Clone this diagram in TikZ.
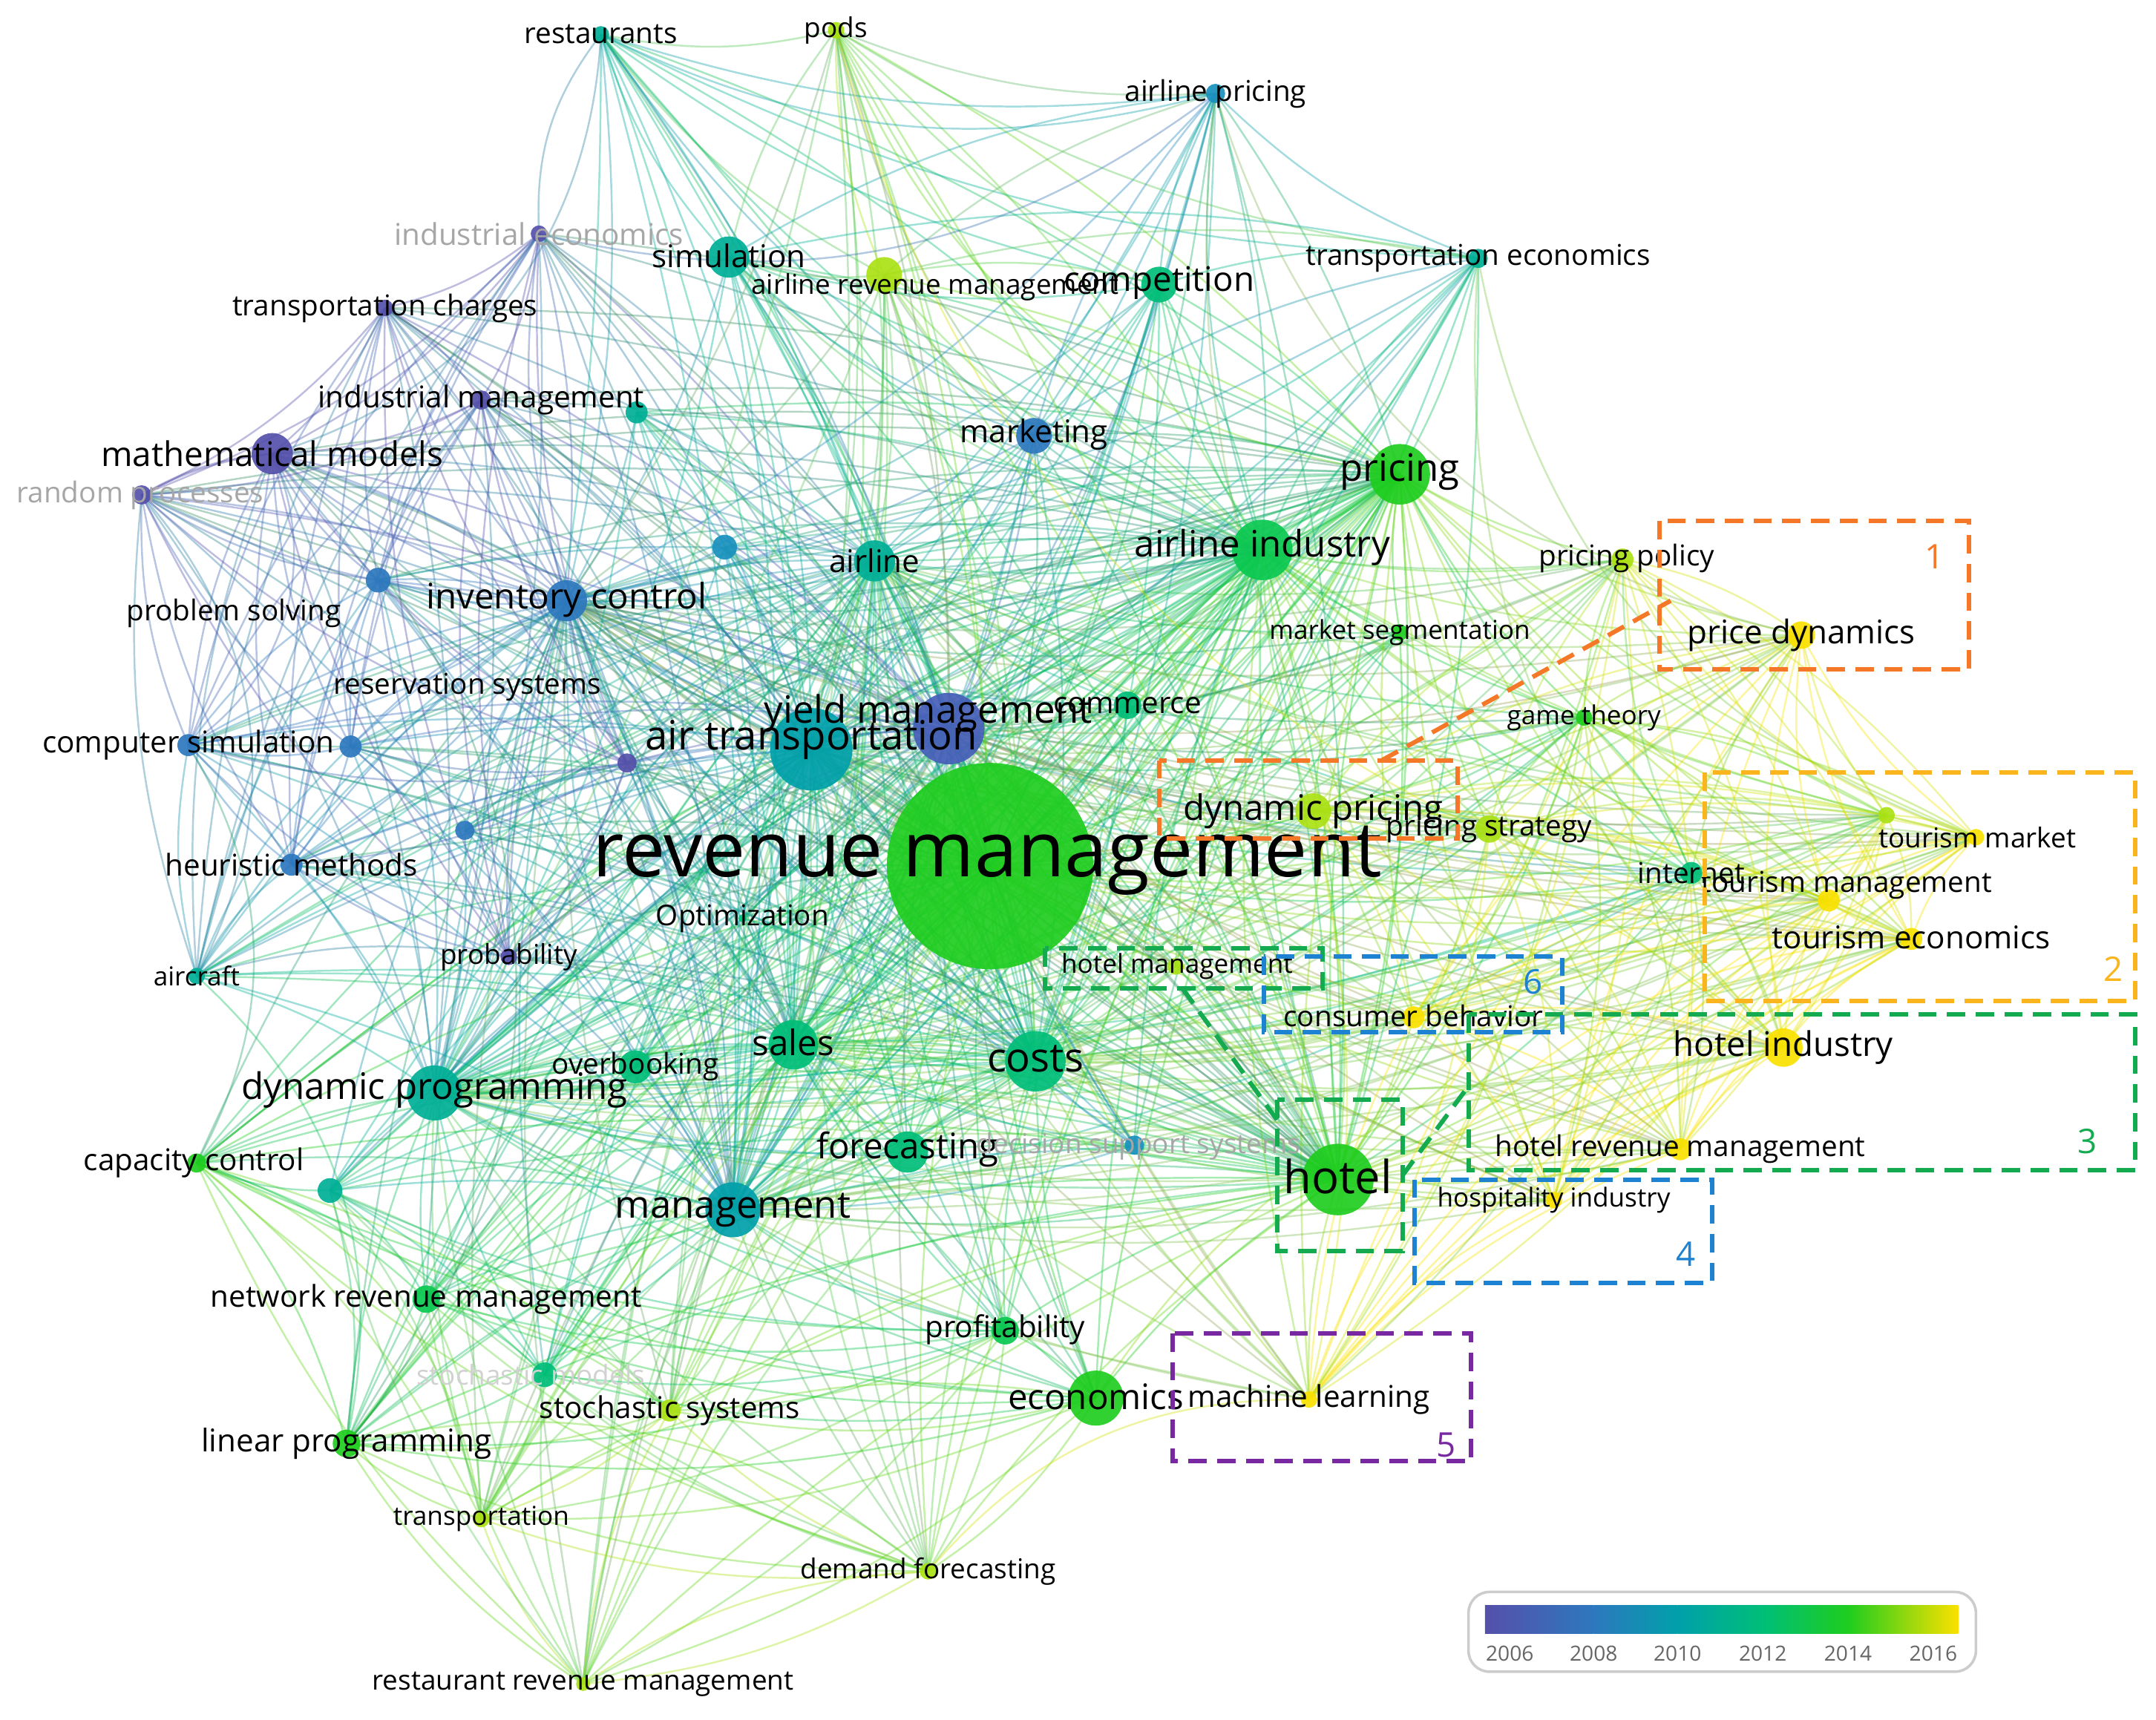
\documentclass[tikz,border=0pt]{standalone}
\usepackage{fontspec}
\setmainfont{Open Sans}
\definecolor{c06}{RGB}{85,80,170}
\definecolor{c07}{RGB}{70,95,185}
\definecolor{c08}{RGB}{45,120,190}
\definecolor{c09}{RGB}{25,145,190}
\definecolor{c10}{RGB}{0,160,170}
\definecolor{c11}{RGB}{0,175,150}
\definecolor{c12}{RGB}{0,190,120}
\definecolor{c13}{RGB}{10,200,80}
\definecolor{c14}{RGB}{30,205,30}
\definecolor{c15}{RGB}{170,225,20}
\definecolor{c16}{RGB}{250,225,0}
\definecolor{bOr}{RGB}{245,120,40}
\definecolor{bYe}{RGB}{250,180,30}
\definecolor{bGr}{RGB}{20,170,80}
\definecolor{bBl}{RGB}{30,130,210}
\definecolor{bPu}{RGB}{120,40,160}
\tikzset{
 edge/.style={opacity=.38,line width=.7pt},
 kwdot/.style={circle,inner sep=0pt,opacity=.92},
 boxd/.style={dashed,dash pattern=on 7pt off 4pt,line width=1.7pt},
 boxnum/.style={font=\fontsize{13}{13}\selectfont}
}
\def\nodelist{rm/720/630/75/c14/718/626/29.5/black/revenue management,
yield/690/530/26/c07/675/519/14.5/black/yield management,
airtrans/590/545/30/c10/590/538/15.5/black/air transportation,
pricing/1018/345/22/c14/1018/343/14.5/black/pricing,
ailind/918/400/22/c13/918/398/14/black/airline industry,
hotel/973/858/26/c14/973/856/17.5/black/hotel,
costs/753/772/22/c12/753/770/15.5/black/costs,
sales/577/760/18/c12/577/758/13.5/black/sales,
mgmt/533/880/20/c10/533/880/14.5/black/management,
fcst/660/838/15/c12/660/836/13.5/black/forecasting,
dynprog/316/795/20/c11/316/793/14/black/dynamic programming,
econ/797/1017/20/c14/797/1016/13.5/black/economics,
invc/412/437/15/c08/412/436/13.5/black/inventory control,
mathm/198/330/15/c06/198/330/13/black/mathematical models,
sim/530/187/15/c11/530/186/12/black/simulation,
comp/843/207/13/c12/843/206/13/black/competition,
mkt/752/317/13/c08/752/316/12/black/marketing,
airline/636/408/15/c11/636/408/12/black/airline,
comm/820/513/10/c12/820/513/11.5/black/commerce,
dynp/955/590/13/c15/955/590/13.5/black/dynamic pricing,
pstrat/1083/603/10/c15/1083/603/11/black/pricing strategy,
inet/1230/635/8/c12/1230/635/11/black/internet,
tmkt/1437/609/6/c16/1438/609/10.5/black/tourism market,
tmgmt/1330/655/8/c16/1343/644/11/black/tourism management,
tecon/1390/683/8/c16/1390/682/12/black/tourism economics,
pdyn/1310/462/10/c16/1310/462/12.5/black/price dynamics,
ppol/1180/407/8/c15/1183/406/11/black/pricing policy,
mseg/1018/460/6/c14/1018/460/10/black/market segmentation,
game/1152/522/6/c14/1152/522/10/black/game theory,
hind/1297/762/14/c16/1297/762/13/black/hotel industry,
hrm/1222/836/8/c16/1222/836/11/black/hotel revenue management,
hosp/1130/873/6/c16/1130/873/10/black/hospitality industry,
cons/1028/740/8/c16/1028/739/11/black/consumer behavior,
hmgmt/855/703/6/c15/856/703/10/black/hotel management,
ml/952/1018/6/c16/952/1018/11.5/black/machine learning,
prof/731/968/10/c13/731/967/11.5/black/profitability,
dfc/675/1143/6/c15/675/1143/10.5/black/demand forecasting,
rrm/424/1225/5/c15/424/1225/10.5/black/restaurant revenue management,
transp/350/1105/6/c15/350/1105/10/black/transportation,
lp/252/1050/10/c14/252/1050/12/black/linear programming,
stoch/487/1026/8/c15/487/1026/11.5/black/stochastic systems,
stmod/396/1000/9/c12/386/1000/10.5/black!18/stochastic models,
nrm/310/945/10/c13/310/945/11.5/black/network revenue management,
capc/143/846/7/c14/141/846/11.5/black/capacity control,
over/462/776/12/c12/462/776/11/black/overbooking,
opt/540/668/3/c12/540/668/11/black/Optimization,
prob/370/696/6/c06/370/696/10.5/black/probability,
aircraft/143/710/6/c11/143/710/10/black/aircraft,
heur/212/629/8/c08/212/629/11.5/black/heuristic methods,
csim/137/542/8/c08/137/542/11.5/black/computer simulation,
resv/338/604/7/c08/340/500/11/black/reservation systems,
psolv/275/422/9/c08/170/446/11/black/problem solving,
randp/103/360/7/c06/102/360/11/black!35/random processes,
imgmt/350/291/7/c06/350/291/11.5/black/industrial management,
tch/280/224/6/c06/280/224/11/black/transportation charges,
iecon/392/170/6/c06/392/170/11.5/black!35/industrial economics,
arm/643/200/13/c15/680/209/10.5/black/airline revenue management,
rest/437/25/6/c11/437/25/11/black/restaurants,
pods/608/22/6/c15/608/22/10.5/black/pods,
apr/884/68/7/c09/884/68/11/black/airline pricing,
tecn/1075/188/7/c11/1075/188/11/black/transportation economics,
dss/825/833/7/c09/828/834/10.5/black!35/decision support systems,
ua/240/866/9/c11/240/866/8/black/{},
ub/463/300/8/c11/463/300/8/black/{},
uc/527/398/9/c09/527/398/8/black/{},
ud/255/543/8/c08/255/543/8/black/{},
ue/456/555/7/c06/456/555/8/black/{},
uf/1372/593/6/c15/1372/593/8/black/{}}
\def\allnames{rm,yield,airtrans,pricing,ailind,hotel,costs,sales,mgmt,fcst,dynprog,econ,invc,mathm,sim,comp,mkt,airline,comm,dynp,pstrat,inet,tmkt,tmgmt,tecon,pdyn,ppol,mseg,game,hind,hrm,hosp,cons,hmgmt,ml,prof,dfc,rrm,transp,lp,stoch,stmod,nrm,capc,over,opt,prob,aircraft,heur,csim,resv,psolv,randp,imgmt,tch,iecon,arm,rest,pods,apr,tecn,dss,ua,ub,uc,ud,ue,uf}
\def\hubs{rm,airtrans,yield,airline,costs,dynprog,mgmt,pricing,hotel,sales,invc,ailind}
\begin{document}
\begin{tikzpicture}[x=0.01853cm,y=-0.01853cm]
\useasboundingbox (0,0) rectangle (1568,1251);
\foreach \n/\x/\y/\r/\c/\lx/\ly/\s/\tc/\l in \nodelist {
  \coordinate (\n) at (\x,\y);
  \xglobal\colorlet{k-\n}{\c}
}
% hub edges
\foreach \a in \allnames {
  \foreach \h in \hubs {
    \ifnum\strcmp{\a}{\h}=0 \else
      \draw[edge,k-\a!50!k-\h] (\a) to[bend left=9] (\h);
    \fi
  }
}
% cluster edges
\foreach \grp in {{mathm,randp,imgmt,tch,iecon,psolv,csim,heur,invc,prob,ud,ue,aircraft},
  {pdyn,tmkt,tmgmt,tecon,hind,hrm,hosp,cons,ml,uf,ppol,inet,game,pstrat,dynp},
  {rest,pods,apr,tecn,sim,comp,arm,mkt,ailind},
  {lp,transp,stoch,stmod,nrm,capc,ua,rrm,dfc,econ,prof}} {
  \foreach \a [count=\i] in \grp {
    \foreach \b [count=\j] in \grp {
      \ifnum\j>\i
        \draw[edge,k-\a!50!k-\b] (\a) to[bend right=12] (\b);
      \fi
    }
  }
}
% long outer arcs
\foreach \a/\b/\bb in {rest/mathm/35,iecon/rest/20,mathm/csim/40,randp/aircraft/35,csim/capc/30,aircraft/lp/30,
  capc/transp/30,lp/dfc/25,transp/econ/20,dfc/ml/25,rrm/dfc/15,apr/pdyn/-30,tecn/tmkt/-30,tecn/hind/-25,
  pods/pricing/-30,rest/apr/-20,apr/hrm/-30,tmkt/hosp/-35,tecon/ml/-35,hind/econ/-30,pods/tecon/-35,
  iecon/apr/-25,randp/mathm/10,ppol/tmkt/-20,sim/ppol/-25,mathm/lp/45} {
  \draw[edge,k-\a!50!k-\b] (\a) to[bend left=\bb] (\b);
}
% nodes
\foreach \n/\x/\y/\r/\c/\lx/\ly/\s/\tc/\l in \nodelist {
  \node[kwdot,fill=\c,minimum size=\r*0.03706cm] (d-\n) at (\n) {};
}
\foreach \n/\x/\y/\r/\c/\lx/\ly/\s/\tc/\l in \nodelist {
  \node[text=\tc,inner sep=0pt,font=\fontsize{\s}{\s}\selectfont] (l-\n) at (\lx,\ly) {\l};
}
% dashed boxes
\draw[boxd,bOr] (1207,379) rectangle (1432,487);
\node[boxnum,text=bOr] (n1) at (1407,405) {1};
\draw[boxd,bOr] (843,553) rectangle (1060,610);
\coordinate (o1) at (1005,553); \coordinate (o2) at (1215,437);
\draw[boxd,bOr] (o1) -- (o2);
\draw[boxd,bYe] (1240,562) rectangle (1553,728);
\node[boxnum,text=bYe] (n2) at (1537,705) {2};
\draw[boxd,bGr] (1068,738) rectangle (1553,851);
\node[boxnum,text=bGr] (n3) at (1518,830) {3};
\draw[boxd,bGr] (760,690) rectangle (962,719);
\draw[boxd,bGr] (929,800) rectangle (1020,910);
\coordinate (g1) at (860,719); \coordinate (g2) at (929,815);
\coordinate (g3) at (1020,855); \coordinate (g4) at (1068,790);
\draw[boxd,bGr] (g1) -- (g2);
\draw[boxd,bGr] (g3) -- (g4);
\draw[boxd,bBl] (1029,858) rectangle (1245,933);
\node[boxnum,text=bBl] (n4) at (1226,912) {4};
\draw[boxd,bPu] (853,970) rectangle (1070,1063);
\node[boxnum,text=bPu] (n5) at (1052,1051) {5};
\draw[boxd,bBl] (919,696) rectangle (1136,751);
\node[boxnum,text=bBl] (n6) at (1115,714) {6};
% colour bar
\draw[black!20,line width=1pt,rounded corners=8pt,fill=white] (1068,1158) rectangle (1437,1216);
\shade[left color=c06,right color=c08] (1080,1168) rectangle (1159,1188);
\shade[left color=c08,right color=c10] (1159,1168) rectangle (1220,1188);
\shade[left color=c10,right color=c12] (1220,1168) rectangle (1282,1188);
\shade[left color=c12,right color=c14] (1282,1168) rectangle (1344,1188);
\shade[left color=c14,right color=c16] (1344,1168) rectangle (1424,1188);
\foreach \yr/\xx in {2006/1098,2008/1159,2010/1220,2012/1282,2014/1344,2016/1406}
  \node[text=black!60,font=\fontsize{8}{8}\selectfont] (y\yr) at (\xx,1203) {\yr};
\end{tikzpicture}
\end{document}
